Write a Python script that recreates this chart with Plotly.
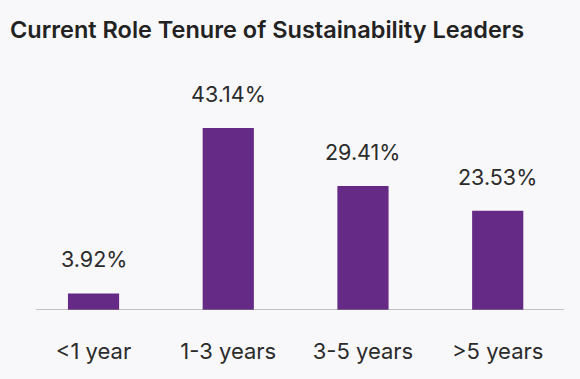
import plotly.graph_objects as go

categories = ["<1 year", "1-3 years", "3-5 years", ">5 years"]
values = [3.92, 43.14, 29.41, 23.53]
labels = [f"{v:.2f}%" for v in values]

BG = "#F8F8FA"
BAR = "#652A85"
TXT = "#2B2B2B"

fig = go.Figure()
fig.add_trace(go.Bar(
    x=list(range(len(categories))), y=values,
    marker=dict(color=BAR, line=dict(width=0)),
    width=0.38, hoverinfo="skip",
))
for i, (v, t) in enumerate(zip(values, labels)):
    fig.add_annotation(x=i, y=v, text=t, showarrow=False, yanchor="bottom",
                       yshift=19, font=dict(family="Inter", size=21.5, color=TXT))

fig.update_layout(
    width=580, height=379,
    paper_bgcolor=BG, plot_bgcolor=BG,
    margin=dict(l=36, r=16, t=78, b=69, autoexpand=False),
    showlegend=False,
    title=dict(text="Current Role Tenure of Sustainability Leaders",
               x=10/580, xref="container", xanchor="left",
               y=1 - 30/379, yref="container", yanchor="middle",
               font=dict(family="Inter", size=23.5, color="#222222", weight=600),
               pad=dict(l=0, t=0, b=0)),
    xaxis=dict(range=[-0.427, 3.492], tickmode="array", automargin=False,
               tickvals=list(range(len(categories))), ticktext=categories,
               showgrid=False, zeroline=False, showline=False,
               ticks="outside", ticklen=22, tickcolor="rgba(0,0,0,0)",
               tickfont=dict(family="Inter", size=22, color=TXT)),
    yaxis=dict(range=[0, 55], visible=False, showgrid=False, zeroline=False,
               automargin=False),
    shapes=[dict(type="line", xref="paper", yref="y", x0=0, x1=1, y0=0, y1=0,
                 line=dict(color="#8A8A8A", width=1))],
)
fig.write_html("out.html", config={"displayModeBar": False, "staticPlot": True},
               post_script="document.body.style.margin='0';document.body.style.background='%s';" % BG)
